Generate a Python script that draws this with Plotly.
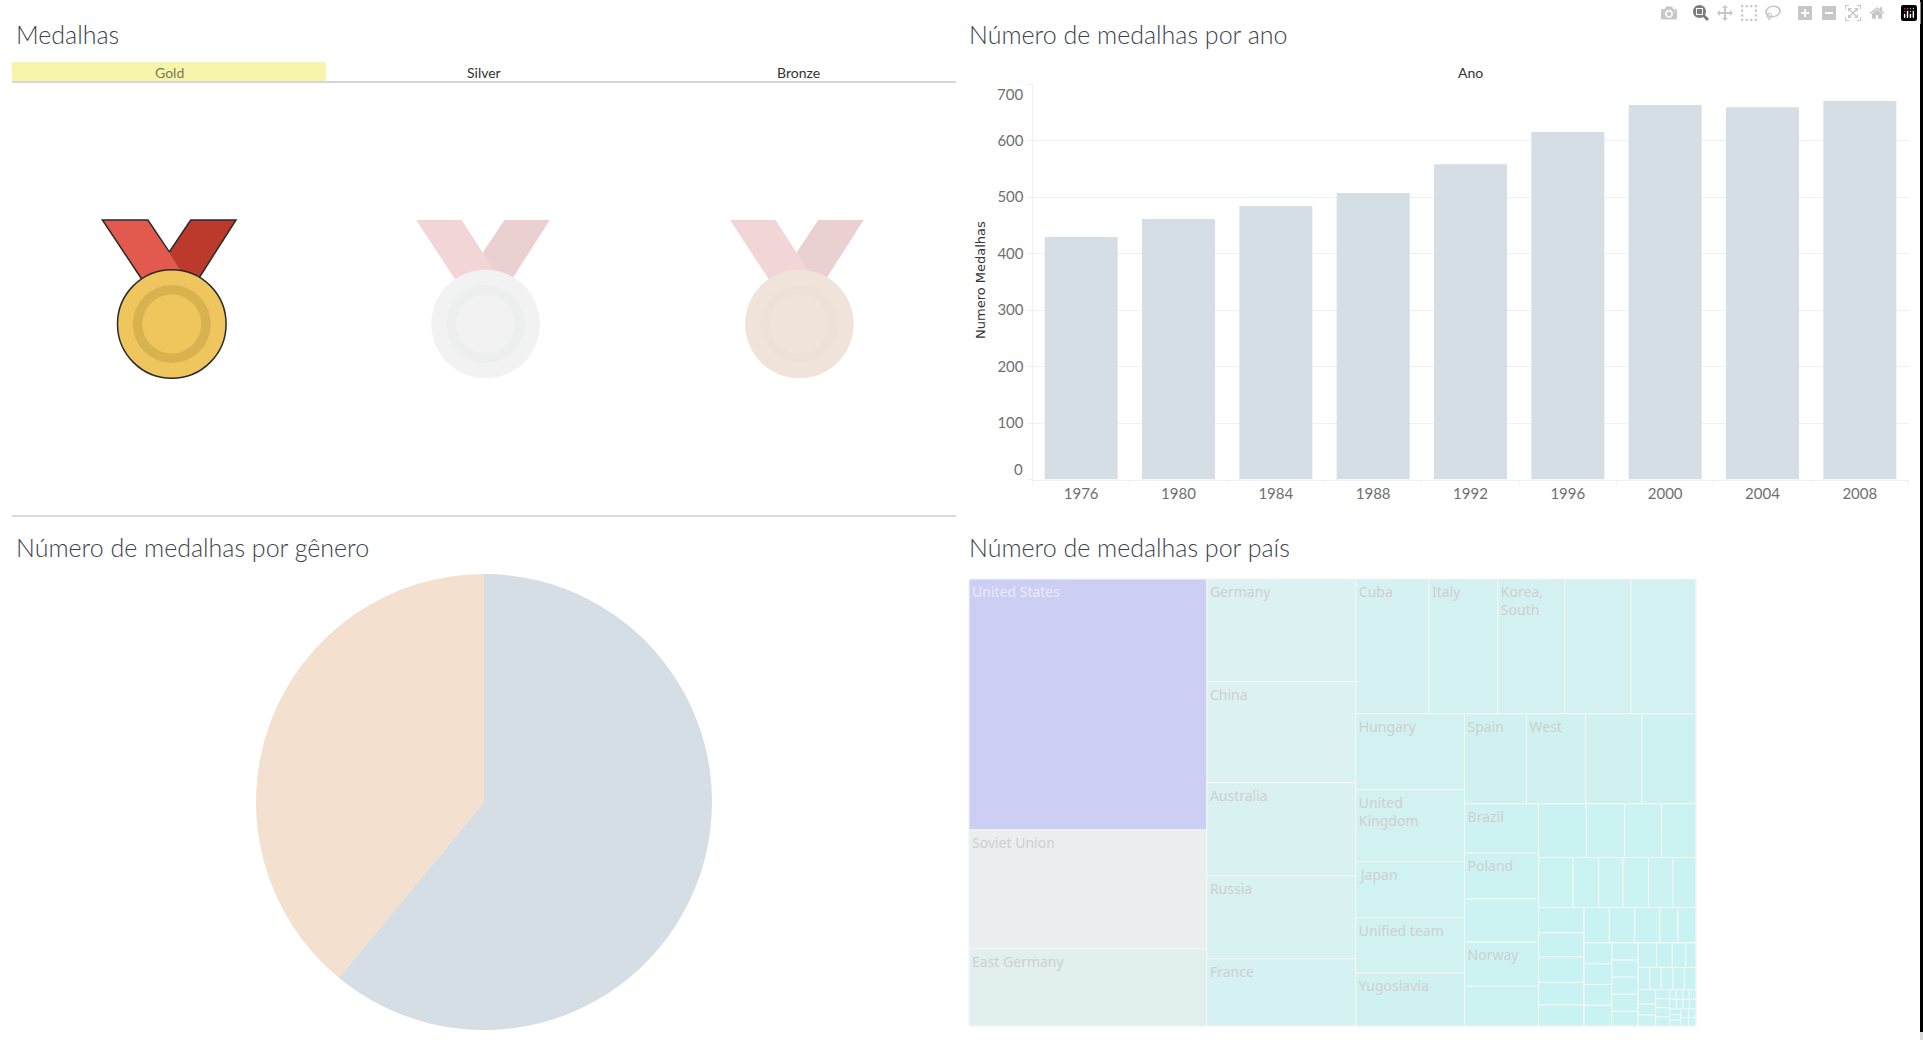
import plotly.graph_objects as go

W, H = 1923, 1040

# ---------- data ----------
medal_tabs = ["Gold", "Silver", "Bronze"]

anos = ["1976", "1980", "1984", "1988", "1992", "1996", "2000", "2004", "2008"]
medalhas_ano = [429, 461, 484, 507, 558, 615, 663, 659, 670]
y_ticks = [0, 100, 200, 300, 400, 500, 600, 700]

genero = ["Men", "Women"]
medalhas_genero = [3090, 1976]

tree_groups = {
    "root": ["c1", "c2", "b"],
    "b": ["b_top", "b_low"],
    "b_low": ["low_left", "low_right"],
    "low_right": ["row1", "rest2"],
    "rest2": ["col_br", "right2"],
    "right2": ["rowA", "rowB", "lower"],
    "lower": ["colP", "rest3"],
    "rest3": ["rowC", "rest4"],
    "rest4": ["colQ", "colR", "rest5"],
    "rest5": ["rowD", "rowE", "rest6"],
    "rest6": ["colS", "colT", "rest7"],
    "rest7": ["rowF", "rowG"],
    "rowF": ["f1", "f2", "f3", "f4"],
    "rowG": ["g1", "g2", "g3"],
}
tree_values = {
    "c1": [932, 442, 286],
    "c2": [239, 235, 216, 193, 156],
    "b_top": [154, 145, 141, 139, 137],
    "low_left": [129, 122, 95, 94, 90],
    "row1": [87, 83, 79, 76],
    "col_br": [57, 53, 50, 51, 46],
    "rowA": [40, 32, 31, 29],
    "rowB": [27, 20, 19, 20, 19, 18],
    "colP": [18, 17, 18, 16, 15],
    "rowC": [14, 14, 14, 10, 10],
    "colQ": [9, 9, 9, 9],
    "colR": [7, 7, 7, 7, 6],
    "rowD": [7, 6, 5, 4],
    "rowE": [4, 4, 4, 4, 4],
    "colS": [4, 3, 3],
    "colT": [2, 2, 2, 2],
    "f1": [1, 1], "f2": [1, 1], "f3": [1, 1], "f4": [1, 1],
    "g1": [1, 1, 1], "g2": [1, 1], "g3": [1, 1],
}
tree_labels = {
    "c1": ["United States", "Soviet Union", "East Germany"],
    "c2": ["Germany", "China", "Australia", "Russia", "France"],
    "b_top": ["Cuba", "Italy", "Korea,<br>South", "", ""],
    "low_left": ["Hungary", "United<br>Kingdom", "Japan", "Unified team", "Yugoslavia"],
    "row1": ["Spain", "West", "", ""],
    "col_br": ["Brazil", "Poland", "", "Norway", ""],
}

# ---------- helpers ----------
def px(x):
    return x / W

def py(y):
    return 1 - y / H

def path(points, close=True):
    s = "M " + " L ".join(f"{px(a):.5f},{py(b):.5f}" for a, b in points)
    return s + (" Z" if close else "")

def circle(cx, cy, r, fill, line=None):
    return dict(type="circle", xref="paper", yref="paper",
                x0=px(cx - r), x1=px(cx + r), y0=py(cy + r), y1=py(cy - r),
                fillcolor=fill, line=dict(color=line or fill, width=1.5 if line else 0))

def rect(x0, y0, x1, y1, fill):
    return dict(type="rect", xref="paper", yref="paper", x0=px(x0), x1=px(x1),
                y0=py(y1), y1=py(y0), fillcolor=fill, line=dict(width=0))

def hline(y, x0, x1, color):
    return dict(type="line", xref="paper", yref="paper", x0=px(x0), x1=px(x1),
                y0=py(y), y1=py(y), line=dict(color=color, width=1.3))

def medal(dx, left, right, disc, ring, outline=None):
    sh = []
    sh.append(dict(type="path", xref="paper", yref="paper", line=dict(width=0), fillcolor=right,
                   path=path([(190.7 + dx, 220), (236 + dx, 220), (199 + dx, 278), (172 + dx, 278), (169.3 + dx, 252)])))
    sh.append(dict(type="path", xref="paper", yref="paper", line=dict(width=0), fillcolor=left,
                   path=path([(102.4 + dx, 220), (147.9 + dx, 220), (184 + dx, 276), (141.7 + dx, 280)])))
    if outline:
        sh.append(dict(type="path", xref="paper", yref="paper", line=dict(color=outline, width=1.5),
                       path=path([(141.7 + dx, 279), (102.4 + dx, 220), (147.9 + dx, 220), (169.3 + dx, 252),
                                  (190.7 + dx, 220), (236 + dx, 220), (199 + dx, 278)], close=False)))
    sh.append(circle(171.8 + dx, 324, 54.3, disc, outline))
    sh.append(circle(171.8 + dx, 324, 39, ring))
    sh.append(circle(171.8 + dx, 324, 29.5, disc))
    return sh

# ---------- treemap nodes (parents first, in reading order) ----------
ids, parents, values, labels = [], [], [], []

def add_node(node, parent):
    ids.append(node); parents.append(parent); values.append(0); labels.append("")
    if node in tree_groups:
        for child in tree_groups[node]:
            add_node(child, node)
    else:
        names = tree_labels.get(node, [""] * len(tree_values[node]))
        for i, v in enumerate(tree_values[node]):
            ids.append(f"{node}-{i}"); parents.append(node); values.append(v); labels.append(names[i])

add_node("root", "")
cmax = max(values)
colorscale = [[0, "#c8f3f2"], [0.166, "#d5f1f1"], [0.256, "#dcf1f2"], [0.306, "#e1efee"],
              [0.474, "#ebeeef"], [1, "#cccff3"]]

fig = go.Figure()

fig.add_trace(go.Bar(x=anos, y=medalhas_ano, marker=dict(color="#d5dde5", line=dict(width=0)),
                     width=0.75, xaxis="x", yaxis="y", hoverinfo="x+y"))

fig.add_trace(go.Pie(labels=genero, values=medalhas_genero, sort=False, direction="clockwise", rotation=0,
                     marker=dict(colors=["#d5dde5", "#f3e0cf"], line=dict(width=0)),
                     textinfo="none", showlegend=False,
                     domain=dict(x=[px(484 - 228), px(484 + 228)], y=[py(802 + 228), py(802 - 228)])))

fig.add_trace(go.Treemap(
    ids=ids, parents=parents, values=values, text=labels, labels=ids,
    branchvalues="remainder", sort=False, textinfo="text", hoverinfo="text",
    tiling=dict(packing="slice-dice", pad=0),
    pathbar=dict(visible=False),
    textposition="top left",
    textfont=dict(family="Noto Sans", size=14,
                  color=["#eaebfb" if t == "United States" else "#cfcfcf" for t in labels]),
    marker=dict(colors=values, colorscale=colorscale, cmin=1, cmax=cmax, showscale=False,
                pad=dict(t=0, l=0, r=0, b=0), depthfade=False,
                line=dict(color="#f6f6f6", width=1)),
    domain=dict(x=[px(969), px(1696)], y=[py(1026), py(579)]),
))

grid = "#f0f0f0"
tick_font = dict(family="Lato", size=15, color="#6f6f6f")

shapes = []
shapes.append(rect(12, 62, 326, 81, "#f6f5ab"))
shapes.append(hline(82, 12, 956, "#c9c9c9"))
shapes.append(hline(516, 12, 956, "#cfcfcf"))
shapes += medal(0, "#e25a4e", "#bb3a2b", "#efc55e", "#d8b24f", "#2a2a2a")
shapes += medal(313.8, "#f2d6d7", "#ebd0d1", "#f1f2f1", "#edefee")
shapes += medal(627.6, "#f2d6d7", "#ead0d0", "#f0e3da", "#eee1d7")
shapes.append(rect(1920, 0, 1923, 1032, "#000000"))
shapes.append(rect(1920, 1032, 1923, 1040, "#d9d9d9"))

def note(text, x, y, size, color, family="Lato", anchor="left", **kw):
    return dict(text=text, xref="paper", yref="paper", x=px(x), y=py(y), showarrow=False,
                xanchor=anchor, yanchor="middle", borderpad=0,
                font=dict(family=family, size=size, color=color, **kw.pop("font_extra", {})), **kw)

title_color = "#3b434c"
annotations = [
    note("Medalhas", 15, 34, 25, title_color, font_extra=dict(weight=300)),
    note("Número de medalhas por ano", 968, 34, 25, title_color, font_extra=dict(weight=300)),
    note("Número de medalhas por gênero", 15, 547, 25, title_color, font_extra=dict(weight=300)),
    note("Número de medalhas por país", 968, 547, 25, title_color, font_extra=dict(weight=300)),
    note(medal_tabs[0], 169, 72.5, 14, "#7a7a5c", anchor="center"),
    note(medal_tabs[1], 484, 72.5, 14, "#333333", anchor="center"),
    note(medal_tabs[2], 798, 72.5, 14, "#333333", anchor="center"),
    note("Ano", 1470, 72.5, 14, "#333333", anchor="center"),
    note("Numero Medalhas", 981, 280, 13, "#333333", family="DejaVu Sans", anchor="center", textangle=-90),
    note(str(y_ticks[-1]), 1024, 94, 15, "#6f6f6f", anchor="right"),
    note(str(y_ticks[0]), 1024, 469, 15, "#6f6f6f", anchor="right"),
]

fig.update_layout(
    width=W, height=H, margin=dict(l=0, r=0, t=0, b=0, autoexpand=False),
    paper_bgcolor="white", plot_bgcolor="white", showlegend=False, bargap=0.25,
    shapes=shapes, annotations=annotations,
    xaxis=dict(domain=[px(1032.5), px(1908.5)], type="category", categoryorder="array", categoryarray=anos,
               range=[-0.5, 8.5], tickson="boundaries", ticks="outside", ticklen=4, tickcolor=grid,
               showgrid=False, zeroline=False, showline=True, linecolor=grid, linewidth=1,
               tickfont=tick_font, anchor="y"),
    yaxis=dict(domain=[py(479.5), py(84)], range=[0, 700], tickmode="array", tickvals=y_ticks,
               ticktext=["" if v in (y_ticks[0], y_ticks[-1]) else str(v) for v in y_ticks],
               ticks="outside", ticklen=5, tickcolor=grid, gridcolor=grid, gridwidth=1,
               zeroline=False, showline=True, linecolor=grid, linewidth=1,
               tickfont=tick_font, anchor="x"),
)

fig.write_html("out.html", post_script="document.body.style.margin='0';document.documentElement.style.overflow='hidden';")
